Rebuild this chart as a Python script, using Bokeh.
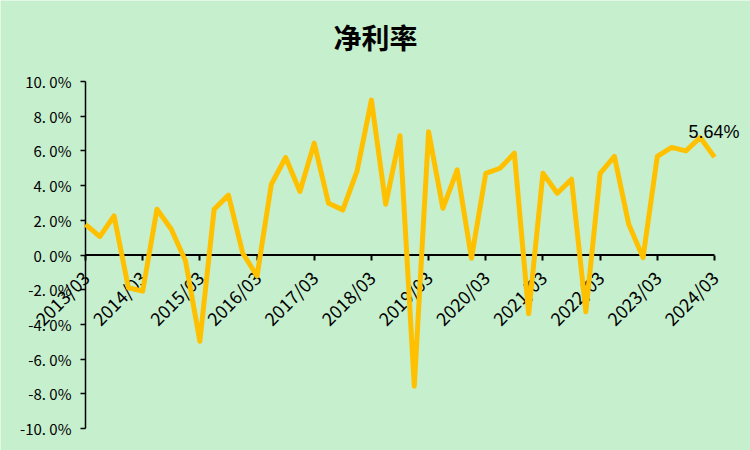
import math
from bokeh.plotting import figure
from bokeh.models import FixedTicker, Label, Range1d
from bokeh.embed import file_html
from bokeh.resources import INLINE

quarters = [f"{y}/{m:02d}" for y in range(2013, 2025) for m in (3, 6, 9, 12)][:45]
net_margin = [1.77, 1.06, 2.25, -1.89, -2.08, 2.64, 1.48, -0.35, -4.97, 2.64,
              3.45, 0.10, -1.21, 4.08, 5.62, 3.66, 6.45, 2.98, 2.60, 4.85,
              8.93, 2.93, 6.87, -7.56, 7.10, 2.69, 4.91, -0.19, 4.70, 5.00,
              5.87, -3.39, 4.71, 3.56, 4.37, -3.27, 4.70, 5.68, 1.77, -0.15,
              5.68, 6.20, 6.00, 6.77, 5.64]
y_ticks = [-10, -8, -6, -4, -2, 0, 2, 4, 6, 8, 10]
x_tick_idx = [i for i, q in enumerate(quarters) if q.endswith("/03")]
title_text = "净利率"

BG = "#C6EFCE"
LINE = "#FFC000"
FONT = "Noto Sans CJK SC"

# layout (pixels): axes box inside a 750x450 canvas
W, H = 750, 450
AX_LEFT, AX_RIGHT, AX_TOP, AX_BOTTOM = 85, 714, 81, 428
n = len(quarters)
ppx = (AX_RIGHT - AX_LEFT) / (n - 1)
ppy = (AX_BOTTOM - AX_TOP) / (y_ticks[-1] - y_ticks[0])
x_range = Range1d(0 - AX_LEFT / ppx, (n - 1) + (W - AX_RIGHT) / ppx)
y_range = Range1d(y_ticks[0] - (H - AX_BOTTOM) / ppy, y_ticks[-1] + AX_TOP / ppy)

p = figure(width=W, height=H, output_backend="svg", toolbar_location=None,
           x_range=x_range, y_range=y_range,
           min_border_left=0, min_border_right=0, min_border_top=0,
           min_border_bottom=0)
p.background_fill_color = BG
p.border_fill_color = BG
p.outline_line_color = None
p.grid.visible = False

# axis lines
p.segment(x0=[0], y0=[0], x1=[n - 1], y1=[0], line_color="black", line_width=2)
p.segment(x0=[0], y0=[y_ticks[0]], x1=[0], y1=[y_ticks[-1]], line_color="black",
          line_width=1.5)

p.line(list(range(n)), net_margin, line_color=LINE, line_width=5,
       line_join="round")

xa = p.xaxis[0]
xa.fixed_location = 0
xa.level = "underlay"
xa.ticker = FixedTicker(ticks=x_tick_idx)
xa.major_label_overrides = {i: quarters[i] for i in x_tick_idx}
xa.major_label_orientation = math.pi / 4
xa.major_tick_in = 0
xa.major_tick_out = 5
xa.minor_tick_line_color = None
xa.axis_line_color = None
xa.major_tick_line_width = 2
xa.major_label_text_font = FONT
xa.major_label_text_font_size = "18px"
xa.major_label_text_color = "black"
xa.major_label_standoff = 14

ya = p.yaxis[0]
ya.fixed_location = 0
ya.level = "underlay"
ya.ticker = FixedTicker(ticks=y_ticks)
ya.major_label_overrides = {v: ("-" if v < 0 else "") + f"{abs(v)}. 0%" for v in y_ticks}
ya.major_tick_in = 0
ya.major_tick_out = 5
ya.minor_tick_line_color = None
ya.axis_line_color = None
ya.major_tick_line_width = 1.5
ya.major_label_text_font = FONT
ya.major_label_text_font_size = "15px"
ya.major_label_text_color = "black"
ya.major_label_standoff = 9

p.add_layout(Label(x=n - 1, y=net_margin[-1], text=f"{net_margin[-1]:.2f}%",
                   x_offset=-26, y_offset=25, text_align="left", text_baseline="alphabetic",
                   text_font="Liberation Sans", text_font_size="18px", text_color="black"))

p.add_layout(Label(x=W / 2, y=H - 36, x_units="screen", y_units="screen",
                   text=title_text, text_align="center", text_baseline="middle",
                   text_font=FONT, text_font_size="28px", text_font_style="bold",
                   text_color="black"))

open("out.html", "w").write(file_html(p, INLINE))
